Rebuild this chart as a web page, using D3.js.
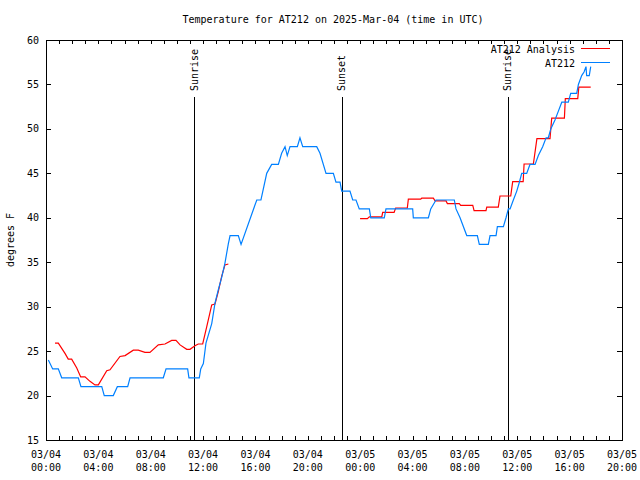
<!DOCTYPE html>
<html><head><meta charset="utf-8">
<script src="https://cdn.jsdelivr.net/npm/d3@7"></script>
<style>
html,body{margin:0;padding:0;background:#fff;}
text{font-family:"DejaVu Sans Mono",monospace;font-size:10px;fill:#000;}
</style></head>
<body><svg id="c" width="640" height="480"></svg>
<script>
const title = "Temperature for AT212 on 2025-Mar-04 (time in UTC)";
const yLabel = "degrees F";
const seriesNames = ["AT212 Analysis", "AT212"];
const startTime = "2025-03-04T00:00:00Z";
const endHours = 44;
const yTicks = [15,20,25,30,35,40,45,50,55,60];

// hours since 03/04 00:00 UTC, temperatures in F
const obsHours = [0.18,0.51,0.94,1.20,2.47,2.67,4.26,4.45,5.14,5.45,6.24,6.42,8.96,9.17,10.82,10.92,11.71,11.82,12.02,12.22,12.66,12.91,13.16,13.42,13.67,13.93,14.06,14.69,14.90,16.10,16.42,16.86,17.24,17.75,18.00,18.26,18.43,18.64,19.20,19.40,19.61,20.68,20.93,21.39,21.95,22.15,22.46,22.59,23.22,23.43,23.68,23.93,24.70,24.81,25.84,25.97,28.01,28.06,29.21,29.39,29.79,31.19,31.32,31.63,32.14,32.95,33.10,33.79,33.92,34.38,34.48,34.94,35.14,35.32,35.45,35.70,35.96,36.16,36.34,36.72,36.97,37.36,37.61,37.94,38.20,38.37,38.56,38.88,39.14,39.40,39.90,40.08,40.54,40.67,40.92,41.10,41.25,41.30,41.50,41.61];
const obsTemps = [24,23,23,22,22,21,21,20,20,21,21,22,22,23,23,22,22,23,23.6,25.9,28.1,30.4,31.9,33.3,34.9,37.1,38,38,37,42,42,45,46,46,47.25,48,47,48,48,49,48,48,47.25,45,45,44,44,43,43,42,42,41,41,40,40,41,41,40,40,41,42,42,41,40,38,38,37,37,38,38,39,39,40,41,41,42,43,44,45,45,46,46,47,48,49,49,50,51,52,53,53,54,54,55,56,56.4,57,56,56,57];

const anaHours = [0.69,0.94,1.45,1.70,1.96,2.35,2.65,2.98,3.36,3.74,4.00,4.64,4.89,5.65,6.04,6.67,7.05,7.56,7.94,8.58,9.09,9.60,9.93,10.24,10.75,11.00,11.38,11.63,11.97,12.28,12.66,12.91,13.16,13.42,13.67,13.93,18.00,23.99,24.55,24.70,25.65,25.72,26.59,26.71,27.60,27.68,28.62,28.70,29.59,29.72,30.56,30.66,31.57,31.68,32.60,32.70,33.61,33.67,34.55,34.68,35.50,35.65,36.45,36.52,37.23,37.50,37.97,38.50,38.63,39.60,39.67,40.62,40.70,41.61];
const anaTemps = [25.9,25.9,24.75,24.1,24.1,23.1,22.1,22.1,21.6,21.2,21.2,22.8,22.9,24.4,24.5,25.1,25.1,24.86,24.86,25.7,25.8,26.2,26.2,25.7,25.2,25.2,25.6,25.8,25.8,27.75,30.2,30.3,31.7,33.4,34.7,34.8,null,39.9,39.9,40.1,40.1,40.6,40.6,41.1,41.1,42.1,42.1,42.2,42.2,41.9,41.9,41.6,41.6,41.4,41.4,40.8,40.8,41.2,41.2,42.45,42.45,44.06,44.06,46.05,46.05,48.9,48.9,48.9,51.2,51.2,53.4,53.4,54.7,54.7];

const eventNames = ["Sunrise","Sunset","Sunrise"];
const eventHours = [11.31,22.61,35.29];

const colors = ["#ff0000","#0080ff"];

const svg = d3.select("#c");
const L=46, R=622, T=40, B=440;
const t0 = new Date(startTime);
const toDate = h => new Date(t0.getTime() + h*3600000);
const x = d3.scaleUtc().domain([t0, toDate(endHours)]).range([L,R]);
const y = d3.scaleLinear().domain([15,60]).range([B,T]);

// title
svg.append("text").attr("x",333).attr("y",23).attr("text-anchor","middle").text(title);
// y label
svg.append("text").attr("transform","translate(14,240) rotate(-90)").attr("text-anchor","middle").text(yLabel);

// ticks
const hourTicks = d3.utcHour.every(1).range(t0, toDate(endHours+0.01));
const gB = svg.append("g").attr("transform",`translate(0,${B})`)
  .call(d3.axisBottom(x).tickValues(hourTicks).tickSize(-4).tickSizeOuter(0).tickFormat(""));
const gT = svg.append("g").attr("transform",`translate(0,${T})`)
  .call(d3.axisTop(x).tickValues(hourTicks).tickSize(-4).tickSizeOuter(0).tickFormat(""));
const gL = svg.append("g").attr("transform",`translate(${L},0)`)
  .call(d3.axisLeft(y).tickValues(yTicks).tickSize(-5).tickSizeOuter(0).tickFormat(""));
const gR = svg.append("g").attr("transform",`translate(${R},0)`)
  .call(d3.axisRight(y).tickValues(yTicks).tickSize(-5).tickSizeOuter(0).tickFormat(""));
[gB,gT,gL,gR].forEach(g=>{g.select(".domain").remove(); g.selectAll("line").attr("stroke","#000").attr("shape-rendering","crispEdges");});

// y tick labels
svg.append("g").selectAll("text").data(yTicks).join("text")
  .attr("x",39).attr("y",d=>y(d)).attr("dy","0.35em").attr("text-anchor","end").text(d=>d);
// x tick labels
const labTicks = d3.utcHour.every(4).range(t0, toDate(endHours+0.01));
const fDay = d3.utcFormat("%m/%d"), fHM = d3.utcFormat("%H:%M");
const xl = svg.append("g").selectAll("g").data(labTicks).join("g");
xl.append("text").attr("x",d=>x(d)).attr("y",458).attr("text-anchor","middle").text(d=>fDay(d));
xl.append("text").attr("x",d=>x(d)).attr("y",471).attr("text-anchor","middle").text(d=>fHM(d));

// event lines
const ev = svg.append("g").selectAll("g").data(eventHours).join("g");
ev.append("line").attr("x1",d=>Math.round(x(toDate(d)))+0.5).attr("x2",d=>Math.round(x(toDate(d)))+0.5)
  .attr("y1",97).attr("y2",B).attr("stroke","#000").attr("stroke-width",1);
ev.append("text").attr("transform",d=>`translate(${x(toDate(d))+3.5},91) rotate(-90)`)
  .attr("text-anchor","start").text((d,i)=>eventNames[i]);

// lines
const line = d3.line().defined(d=>d[1]!==null).x(d=>x(toDate(d[0]))).y(d=>y(d[1]));
const anaData = anaHours.map((h,i)=>[h,anaTemps[i]]);
const obsData = obsHours.map((h,i)=>[h,obsTemps[i]]);
svg.append("path").attr("d",line(anaData)).attr("fill","none").attr("stroke",colors[0]).attr("stroke-width",1.2);
svg.append("path").attr("d",line(obsData)).attr("fill","none").attr("stroke",colors[1]).attr("stroke-width",1.2);

// border
svg.append("rect").attr("x",L+0.5).attr("y",T+0.5).attr("width",R-L).attr("height",B-T)
  .attr("fill","none").attr("stroke","#000").attr("stroke-width",1);

// legend
const lg = svg.append("g").selectAll("g").data(seriesNames).join("g");
lg.append("text").attr("x",575).attr("y",(d,i)=>49+i*14).attr("dy","0.35em").attr("text-anchor","end").text(d=>d);
lg.append("line").attr("x1",581).attr("x2",610).attr("y1",(d,i)=>48.5+i*14).attr("y2",(d,i)=>48.5+i*14)
  .attr("stroke",(d,i)=>colors[i]).attr("stroke-width",1);
</script></body></html>
